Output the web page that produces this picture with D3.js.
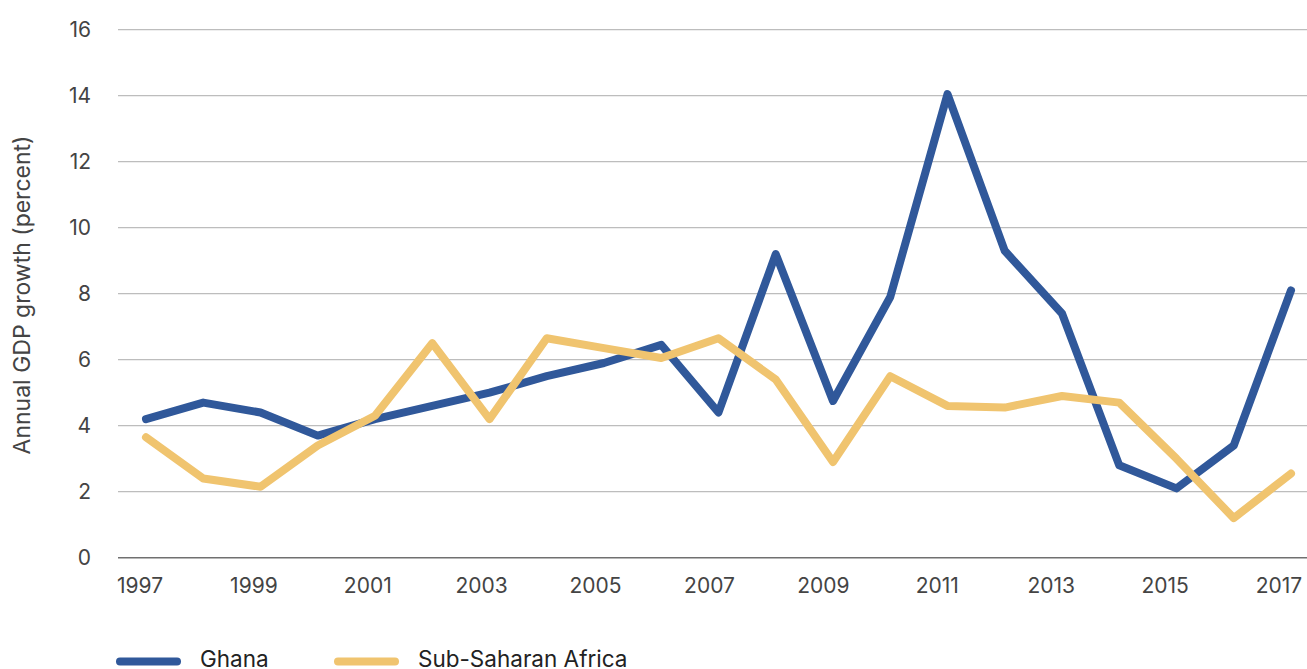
<!DOCTYPE html>
<html>
<head>
<meta charset="utf-8">
<script src="https://d3js.org/d3.v7.min.js"></script>
<style>
  body { margin: 0; background: #fff; }
  text { font-family: Inter, Roboto, "Noto Sans", sans-serif; fill: #444; }
</style>
</head>
<body>
<svg id="canvas"></svg>
<script>
// data
var years = [1997, 1998, 1999, 2000, 2001, 2002, 2003, 2004, 2005, 2006, 2007,
             2008, 2009, 2010, 2011, 2012, 2013, 2014, 2015, 2016, 2017];
var ghana = [4.2, 4.7, 4.4, 3.7, 4.2, 4.6, 5.0, 5.5, 5.9, 6.45, 4.4,
             9.2, 4.75, 7.9, 14.05, 9.3, 7.4, 2.8, 2.1, 3.4, 8.1];
var ssa   = [3.65, 2.4, 2.15, 3.4, 4.3, 6.5, 4.2, 6.65, 6.35, 6.05, 6.65,
             5.4, 2.9, 5.5, 4.6, 4.55, 4.9, 4.7, 3.0, 1.2, 2.55];
var yTicks = [0, 2, 4, 6, 8, 10, 12, 14, 16];
var xTickYears = [1997, 1999, 2001, 2003, 2005, 2007, 2009, 2011, 2013, 2015, 2017];
var seriesNames = ["Ghana", "Sub-Saharan Africa"];
var seriesColors = ["#30589a", "#f0c46f"];

var width = 1307, height = 669;

var svg = d3.select("#canvas")
    .attr("width", width)
    .attr("height", height);

var x = d3.scaleLinear().domain([1997, 2017]).range([146, 1291]);
// tick labels sit a little left of the data points in the original
var xLabel = d3.scaleLinear().domain([1997, 2017]).range([140, 1279]);
var y = d3.scaleLinear().domain([0, 16]).range([557.7, 29.7]);

// gridlines
svg.append("g")
  .selectAll("line")
  .data(yTicks.filter(function(d) { return d > 0; }))
  .enter().append("line")
    .attr("x1", 118)
    .attr("x2", width)
    .attr("y1", function(d) { return y(d); })
    .attr("y2", function(d) { return y(d); })
    .style("stroke", "#bdbdbd")
    .style("stroke-width", 1.2);

// zero line
svg.append("line")
  .attr("x1", 118).attr("x2", width)
  .attr("y1", y(0)).attr("y2", y(0))
  .style("stroke", "#707070")
  .style("stroke-width", 1.6);

// y tick labels
svg.append("g")
  .selectAll("text")
  .data(yTicks)
  .enter().append("text")
    .text(function(d) { return d; })
    .attr("x", 91)
    .attr("y", function(d) { return y(d); })
    .attr("dy", "0.36em")
    .attr("text-anchor", "end")
    .style("font-size", "21px");

// x tick labels
svg.append("g")
  .selectAll("text")
  .data(xTickYears)
  .enter().append("text")
    .text(function(d) { return d; })
    .attr("x", function(d) { return xLabel(d); })
    .attr("y", 593)
    .attr("text-anchor", "middle")
    .style("font-size", "21px");

// y axis title
svg.append("text")
  .text("Annual GDP growth (percent)")
  .attr("transform", "translate(30,295) rotate(-90)")
  .attr("text-anchor", "middle")
  .style("font-size", "23px");

var line = d3.line()
  .x(function(d, i) { return x(years[i]); })
  .y(function(d) { return y(d); });

[ghana, ssa].forEach(function(s, i) {
  svg.append("path")
    .datum(s)
    .attr("d", line)
    .style("fill", "none")
    .style("stroke", seriesColors[i])
    .style("stroke-width", 8)
    .style("stroke-linejoin", "round")
    .style("stroke-linecap", "round");
});

// legend
var legendX = [117, 335];
seriesNames.forEach(function(name, i) {
  svg.append("line")
    .attr("x1", legendX[i] + 3).attr("x2", legendX[i] + 60)
    .attr("y1", 661.5).attr("y2", 661.5)
    .style("stroke", seriesColors[i])
    .style("stroke-width", 8)
    .style("stroke-linecap", "round");
  svg.append("text")
    .text(name)
    .attr("x", legendX[i] + 83)
    .attr("y", 667)
    .style("font-size", "22.5px")
    .style("fill", "#222");
});
</script>
</body>
</html>
